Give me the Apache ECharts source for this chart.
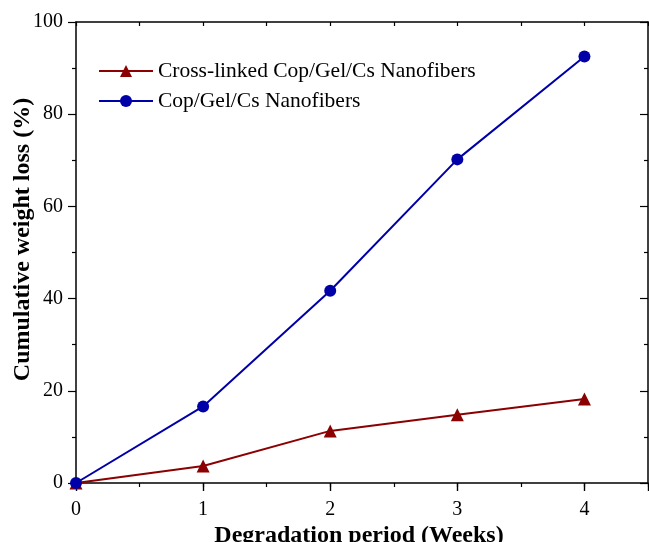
<!DOCTYPE html>
<html>
<head>
<meta charset="utf-8">
<script src="https://cdn.jsdelivr.net/npm/echarts@6/dist/echarts.min.js"></script>
<style>
  html, body { margin: 0; padding: 0; background: #fff; }
  #chart { width: 649px; height: 542px; }
</style>
</head>
<body>
<div id="chart"></div>
<script>
// Degradation period in weeks
const weeks = [0, 1, 2, 3, 4];
// Cumulative weight loss (%)
const crossLinked = [0, 3.7, 11.3, 14.8, 18.2];
const plain = [0, 16.6, 41.7, 70.2, 92.5];
const seriesNames = ['Cross-linked Cop/Gel/Cs Nanofibers', 'Cop/Gel/Cs Nanofibers'];

const serif = 'Liberation Serif, Times New Roman, serif';
const axisLine = { show: true, onZero: false, lineStyle: { color: '#000', width: 1.5 } };
const tickStyle = { color: '#000', width: 1.2 };

const pairs = (ys) => weeks.map((w, i) => [w, ys[i]]);

const chart = echarts.init(document.getElementById('chart'));
chart.setOption({
  backgroundColor: '#fff',
  animation: false,
  grid: { left: 76, right: 1, top: 22, bottom: 59, outerBoundsMode: 'none', containLabel: false },
  legend: {
    orient: 'vertical',
    left: 98,
    top: 60,
    padding: 0,
    itemWidth: 54,
    itemHeight: 15,
    itemGap: 8,
    textStyle: { fontFamily: serif, fontSize: 21.5, color: '#000' },
    data: seriesNames
  },
  xAxis: [
    {
      type: 'value', position: 'bottom', min: 0, max: 4.5, interval: 0.5,
      axisLine: axisLine,
      axisTick: { show: true, length: 4, inside: false, lineStyle: tickStyle },
      axisLabel: {
        fontFamily: serif, fontSize: 20, color: '#000', margin: 17,
        formatter: (v) => (Number.isInteger(v) ? String(v) : '')
      },
      splitLine: { show: false },
      name: 'Degradation period (Weeks)', nameLocation: 'middle', nameGap: 41,
      nameMoveOverlap: false,
      nameTextStyle: { fontFamily: serif, fontSize: 24, fontWeight: 'bold', color: '#000', padding: [0, 6, 0, 0] }
    },
    {
      type: 'value', position: 'bottom', min: 0, max: 4.5, interval: 1,
      axisLine: { show: false },
      axisTick: { show: true, length: 8, inside: false, lineStyle: tickStyle },
      axisLabel: { show: false },
      splitLine: { show: false }
    },
    {
      type: 'value', position: 'top', min: 0, max: 4.5, interval: 0.5,
      axisLine: axisLine,
      axisTick: { show: true, length: 4, inside: true, lineStyle: tickStyle },
      axisLabel: { show: false },
      splitLine: { show: false }
    },
    {
      type: 'value', position: 'top', min: 0, max: 4.5, interval: 1,
      axisLine: { show: false },
      axisTick: { show: true, length: 8, inside: true, lineStyle: tickStyle },
      axisLabel: { show: false },
      splitLine: { show: false }
    }
  ],
  yAxis: [
    {
      type: 'value', position: 'left', min: 0, max: 100, interval: 20,
      axisLine: axisLine,
      axisTick: { show: true, length: 8, inside: false, lineStyle: tickStyle },
      minorTick: { show: true, splitNumber: 2, length: 4, lineStyle: tickStyle },
      axisLabel: { fontFamily: serif, fontSize: 20, color: '#000', margin: 13 },
      splitLine: { show: false },
      name: 'Cumulative weight loss (%)', nameLocation: 'middle', nameGap: 41,
      nameMoveOverlap: false,
      nameTextStyle: { fontFamily: serif, fontSize: 24, fontWeight: 'bold', color: '#000', padding: [0, 0, 0, 26] }
    },
    {
      type: 'value', position: 'right', min: 0, max: 100, interval: 20,
      axisLine: axisLine,
      axisTick: { show: true, length: 8, inside: true, lineStyle: tickStyle },
      minorTick: { show: true, splitNumber: 2, length: 4, lineStyle: tickStyle },
      axisLabel: { show: false },
      splitLine: { show: false }
    }
  ],
  series: [
    {
      name: seriesNames[0], type: 'line', xAxisIndex: 0, yAxisIndex: 0,
      data: pairs(crossLinked),
      symbol: 'triangle', symbolSize: 13,
      itemStyle: { color: '#8B0000' },
      lineStyle: { color: '#8B0000', width: 2 }
    },
    {
      name: seriesNames[1], type: 'line', xAxisIndex: 0, yAxisIndex: 0,
      data: pairs(plain),
      symbol: 'circle', symbolSize: 12,
      itemStyle: { color: '#0000A8' },
      lineStyle: { color: '#0000A8', width: 2 }
    }
  ]
});
</script>
</body>
</html>
